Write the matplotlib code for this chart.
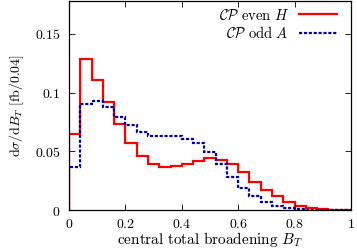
import numpy as np
import matplotlib
matplotlib.use("Agg")
import matplotlib.pyplot as plt

plt.rcParams['mathtext.fontset'] = 'cm'
plt.rcParams['font.family'] = 'serif'
plt.rcParams['font.serif'] = ['DejaVu Serif']

bin_edges = np.linspace(0, 1, 26)
even_H = [0.065, 0.129, 0.111, 0.092, 0.073, 0.057, 0.046, 0.039, 0.037, 0.0375,
          0.0395, 0.042, 0.0447, 0.043, 0.039, 0.032, 0.0236, 0.0168, 0.0117, 0.0068,
          0.0037, 0.0017, 0.0007, 0.0003, 0.0002]
odd_A = [0.037, 0.090, 0.093, 0.0876, 0.079, 0.072, 0.0666, 0.0634, 0.063, 0.063,
         0.0606, 0.057, 0.0495, 0.0393, 0.0284, 0.0188, 0.0117, 0.0068, 0.0031, 0.0017,
         0.0008, 0.0004, 0.0003, 0.0002, 0.0001]
xticks = [0, 0.2, 0.4, 0.6, 0.8, 1]
xticklabels = ['0', '0.2', '0.4', '0.6', '0.8', '1']
yticks = [0, 0.05, 0.1, 0.15]
yticklabels = ['0', '0.05', '0.1', '0.15']

fig = plt.figure(figsize=(3.57, 2.49), dpi=100)
ax = fig.add_axes([69/357, 1-210/249, 282/357, 209/249])

ax.stairs(even_H, bin_edges, color='#ff0000', lw=1.6, baseline=0,
          label=r'$\mathcal{CP}\ \mathrm{even}\ H$')
ax.stairs(odd_A, bin_edges, color='#0000a0', lw=1.6, baseline=0,
          linestyle=(0, (1.4, 0.8)), label=r'$\mathcal{CP}\ \mathrm{odd}\ A$')

ax.set_xlim(0, 1)
ax.set_ylim(0, 0.178)
ax.set_xticks(xticks)
ax.set_xticklabels(['$' + t + '$' for t in xticklabels])
ax.set_yticks(yticks)
ax.set_yticklabels(['$' + t + '$' for t in yticklabels])
ax.tick_params(direction='in', top=True, right=True, length=4, width=0.6,
               labelsize=10, pad=6)
ax.tick_params(axis='x', pad=5)
for s in ax.spines.values():
    s.set_linewidth(0.9)

ax.set_xlabel(r'$\mathrm{central\ total\ broadening}\ B_T$', fontsize=11, labelpad=-0.5)
ax.set_ylabel(r'$\mathrm{d}\sigma/\mathrm{d}B_T\ [\mathrm{fb}/0.04]$', fontsize=10, labelpad=6)

ax.legend(loc='upper right', frameon=False, markerfirst=False, fontsize=10.5,
          handlelength=2.6, handletextpad=0.7, borderaxespad=0.1,
          labelspacing=0.25, bbox_to_anchor=(0.975, 1.0))

fig.savefig('out.png', dpi=100)
